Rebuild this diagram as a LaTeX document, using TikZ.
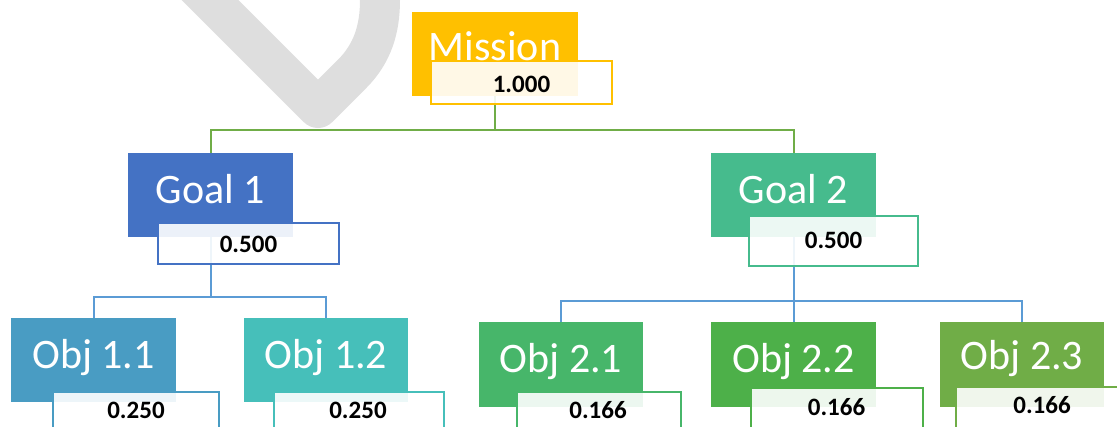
\documentclass[tikz,border=0pt]{standalone}
\usepackage{fontspec}
\setmainfont{Carlito}
\definecolor{wmgray}{RGB}{222,222,222}
\definecolor{cMission}{RGB}{255,192,0}
\definecolor{cGoalA}{RGB}{68,114,196}
\definecolor{cGoalB}{RGB}{70,187,141}
\definecolor{cObjAA}{RGB}{73,156,195}
\definecolor{cObjAB}{RGB}{70,191,186}
\definecolor{cObjBA}{RGB}{71,182,106}
\definecolor{cObjBB}{RGB}{77,176,73}
\definecolor{cObjBC}{RGB}{112,173,71}
\definecolor{cLinkG}{RGB}{112,173,71}
\definecolor{cLinkB}{RGB}{91,155,213}
\begin{document}
\begin{tikzpicture}[x=1pt,y=-1pt,
  mainbox/.style={rectangle, draw=none, anchor=north west, inner sep=0pt, outer sep=0pt},
  valbox/.style={rectangle, anchor=north west, inner sep=0pt, outer sep=0pt, fill=white, fill opacity=0.9, line width=2pt},
  lbl/.style={text=white, font=\fontsize{42}{42}\selectfont, anchor=base, inner sep=0pt},
  val/.style={text=black, font=\bfseries\fontsize{25}{25}\selectfont, anchor=base, inner sep=0pt},
  conn/.style={line width=2pt}]
\useasboundingbox (0,0) rectangle (1117,426);
\clip (0,0) rectangle (1117,426);
% watermark
\draw[wmgray, line width=40pt, line join=round] (180,-30) -- (318,108) -- (352,74) .. controls (372,54) and (380,30) .. (380,0) -- (380,-30);
% main boxes
\node[mainbox, fill=cMission, minimum width=166pt, minimum height=84pt] (m) at (412,12) {};
\node[mainbox, fill=cGoalA, minimum width=165pt, minimum height=84pt] (g1) at (128,153) {};
\node[mainbox, fill=cGoalB, minimum width=165pt, minimum height=84pt] (g2) at (711,153) {};
\node[mainbox, fill=cObjAA, minimum width=165pt, minimum height=84pt] (o11) at (11,318) {};
\node[mainbox, fill=cObjAB, minimum width=164pt, minimum height=84pt] (o12) at (244,318) {};
\node[mainbox, fill=cObjBA, minimum width=164pt, minimum height=85pt] (o21) at (479,322) {};
\node[mainbox, fill=cObjBB, minimum width=165pt, minimum height=85pt] (o22) at (711,322) {};
\node[mainbox, fill=cObjBC, minimum width=164pt, minimum height=85pt] (o23) at (940,322) {};
% connectors
\coordinate (b0) at (495,130);
\coordinate (b1) at (210.5,297);
\coordinate (b2) at (793.5,301);
\draw[conn, cLinkG] (m.south) -- (b0);
\draw[conn, cLinkG] (g1.north) |- (b0) -| (g2.north);
\draw[conn, cLinkB] (g1.south) -- (b1);
\draw[conn, cLinkB] (o11.north) |- (b1) -| (o12.north);
\draw[conn, cLinkB] (g2.south) -- (b2);
\draw[conn, cLinkB] (o21.north) |- (b2) -| (o23.north);
\draw[conn, cLinkB] (b2) -- (o22.north);
% value boxes
\node[valbox, draw=cMission, minimum width=181pt, minimum height=43pt] (mv) at (431,61) {};
\node[valbox, draw=cGoalA, minimum width=181pt, minimum height=41pt] (g1v) at (158,223) {};
\node[valbox, draw=cGoalB, minimum width=169pt, minimum height=50pt] (g2v) at (749,216) {};
\node[valbox, draw=cObjAA, minimum width=166pt, minimum height=50pt] (o11v) at (53,392) {};
\node[valbox, draw=cObjAB, minimum width=170pt, minimum height=50pt] (o12v) at (274,392) {};
\node[valbox, draw=cObjBA, minimum width=164pt, minimum height=50pt] (o21v) at (517,392) {};
\node[valbox, draw=cObjBB, minimum width=172pt, minimum height=50pt] (o22v) at (751,388) {};
\node[valbox, draw=cObjBC, minimum width=180pt, minimum height=50pt] (o23v) at (956,387) {};
% labels
\node[lbl] (mt) at (495,60) {Mission};
\node[lbl] (g1t) at (210.5,203) {Goal 1};
\node[lbl] (g2t) at (793.5,203) {Goal 2};
\node[lbl] (o11t) at (93.5,368) {Obj 1.1};
\node[lbl] (o12t) at (326,368) {Obj 1.2};
\node[lbl] (o21t) at (561,372) {Obj 2.1};
\node[lbl] (o22t) at (793.5,372) {Obj 2.2};
\node[lbl] (o23t) at (1022,369) {Obj 2.3};
% values
\node[val] (mvt) at (521.5,92) {1.000};
\node[val] (g1vt) at (248.5,252) {0.500};
\node[val] (g2vt) at (833.5,248) {0.500};
\node[val] (o11vt) at (136,418) {0.250};
\node[val] (o12vt) at (358,418) {0.250};
\node[val] (o21vt) at (598,418) {0.166};
\node[val] (o22vt) at (836.5,415) {0.166};
\node[val] (o23vt) at (1042,413) {0.166};
\end{tikzpicture}
\end{document}
